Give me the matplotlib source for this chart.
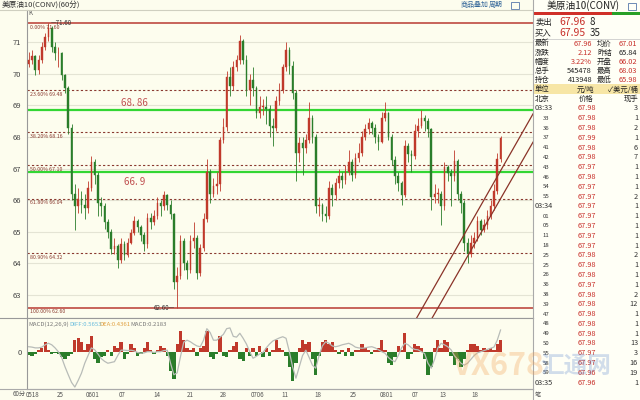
import matplotlib
matplotlib.use('Agg')
import matplotlib.pyplot as plt
import numpy as np
from matplotlib.patches import Rectangle

plt.rcParams['font.family'] = ['Noto Sans CJK SC', 'DejaVu Sans']

# ---------------- data ----------------
first_open = 70.30
closes = [70.44, 70.55, 70.12, 70.44, 70.86, 71.18, 71.45, 70.86, 70.65, 70.65,
          69.95, 69.55, 68.30, 66.20, 65.80, 66.05, 65.85, 65.75, 66.40, 67.20,
          66.80, 65.90, 65.80, 65.30, 65.00, 64.45, 64.55, 64.10, 64.60, 64.25,
          64.65, 64.95, 65.35, 65.15, 64.90, 64.60, 65.45, 65.30, 65.50, 65.90,
          65.80, 66.15, 65.85, 65.55, 63.40, 63.60, 64.70, 64.00, 63.80, 64.70,
          64.80, 63.70, 64.50, 65.40, 66.90, 66.20, 66.45, 66.50, 67.90, 68.33,
          69.90, 69.60, 70.20, 70.45, 71.05, 70.45, 69.50, 69.80, 69.55, 68.75,
          68.95, 68.95, 68.90, 68.35, 68.30, 69.15, 69.50, 70.20, 70.75, 70.25,
          69.40, 67.50, 67.80, 67.65, 67.90, 68.60, 68.00, 65.80, 65.85, 65.55,
          65.50, 66.40, 66.15, 66.55, 66.75, 66.65, 66.90, 67.20, 66.80, 67.35,
          67.50, 68.00, 68.25, 68.45, 68.30, 68.00, 67.85, 68.60, 68.75, 68.00,
          67.27, 66.75, 66.55, 66.15, 67.70, 67.45, 67.40, 68.20, 68.35, 68.60,
          68.50, 68.25, 66.10, 66.20, 66.20, 65.80, 67.05, 66.85, 66.75, 67.25,
          66.20, 65.90, 64.65, 64.30, 64.65, 64.80, 65.35, 65.05, 65.20, 65.50,
          65.80, 66.30, 67.30, 67.96]
highs = [70.70, 70.75, 70.60, 70.60, 71.00, 71.30, 71.60, 71.50, 71.00, 70.85,
         70.70, 70.00, 69.60, 68.40, 66.50, 66.40, 66.30, 66.20, 66.60, 67.40,
         67.30, 66.90, 66.10, 65.90, 65.40, 65.10, 64.80, 64.60, 64.80, 64.70,
         64.80, 65.10, 65.50, 65.40, 65.20, 65.00, 65.60, 65.60, 65.70, 66.10,
         66.00, 66.30, 66.20, 66.00, 65.60, 63.90, 64.90, 64.80, 64.10, 64.90,
         65.30, 64.90, 64.60, 65.60, 67.30, 67.00, 66.70, 66.90, 68.00, 68.60,
         70.10, 70.20, 70.40, 70.60, 71.23, 71.10, 70.60, 70.00, 70.20, 69.60,
         69.30, 69.20, 69.30, 69.00, 68.60, 69.30, 69.70, 70.30, 71.00, 70.85,
         70.40, 69.50, 68.00, 68.00, 68.10, 69.10, 68.70, 68.10, 66.10, 65.90,
         65.80, 66.60, 66.50, 66.70, 67.00, 66.90, 67.10, 67.60, 67.30, 67.50,
         67.80, 68.20, 68.40, 68.60, 68.50, 68.40, 68.10, 68.80, 69.10, 68.80,
         68.10, 67.40, 66.90, 66.60, 67.90, 67.80, 67.60, 68.40, 68.60, 68.85,
         68.70, 68.60, 68.30, 66.50, 66.40, 66.30, 67.20, 67.10, 67.00, 67.60,
         67.30, 66.30, 66.00, 64.80, 64.90, 65.00, 65.50, 65.40, 65.40, 65.70,
         66.00, 66.50, 67.50, 68.03]
lows = [70.20, 70.30, 69.95, 70.00, 70.35, 70.75, 71.05, 70.70, 70.45, 70.20,
        69.80, 69.40, 68.10, 66.00, 65.06, 65.60, 65.60, 65.40, 65.60, 66.30,
        66.50, 65.50, 65.50, 65.10, 64.80, 64.30, 64.30, 63.85, 64.00, 64.10,
        64.20, 64.60, 64.90, 65.00, 64.70, 64.40, 64.50, 65.10, 65.20, 65.40,
        65.50, 65.70, 65.70, 65.40, 63.20, 62.60, 63.50, 63.80, 63.50, 63.70,
        64.50, 63.50, 63.60, 64.40, 65.30, 65.90, 66.10, 66.20, 66.30, 67.80,
        68.20, 69.30, 69.50, 70.10, 70.30, 70.30, 69.30, 69.00, 69.30, 68.60,
        68.60, 68.70, 68.40, 68.00, 67.70, 68.20, 69.00, 69.40, 70.10, 70.00,
        69.20, 66.60, 67.20, 66.80, 67.50, 67.80, 67.80, 65.60, 65.50, 65.35,
        65.30, 65.40, 65.80, 66.00, 66.40, 66.40, 66.50, 66.80, 66.60, 66.70,
        67.20, 67.40, 67.90, 68.10, 68.10, 67.80, 67.60, 67.80, 68.50, 67.90,
        67.10, 66.50, 66.30, 65.85, 66.10, 67.20, 66.90, 67.30, 68.00, 68.30,
        68.20, 68.00, 65.70, 65.90, 65.90, 65.20, 65.70, 66.60, 65.80, 66.60,
        66.00, 65.60, 64.40, 64.00, 64.20, 64.50, 64.70, 64.90, 65.00, 65.10,
        65.40, 65.70, 66.20, 67.20]

macd_hist = [-0.08, -0.10, -0.05, 0.05, 0.10, 0.25, 0.05, -0.05, -0.03, -0.05,
             -0.15, -0.20, -0.10, -0.05, 0.30, 0.35, 0.25, 0.05, 0.20, 0.40,
             -0.20, -0.30, -0.15, -0.10, 0.05, -0.10, 0.15, 0.10, 0.25, -0.20,
             -0.05, 0.20, 0.10, -0.10, -0.05, 0.10, 0.25, 0.05, -0.05, 0.05,
             0.15, 0.10, -0.10, -0.50, -0.70, 0.20, 0.55, 0.30, 0.10, 0.05,
             0.10, -0.10, 0.10, 0.15, 0.55, -0.15, -0.20, -0.05, 0.40, -0.10,
             -0.15, 0.05, 0.15, 0.25, -0.20, -0.25, 0.10, -0.10, 0.10, -0.10,
             0.15, -0.15, 0.10, -0.10, 0.05, 0.30, 0.10, 0.05, -0.10, -0.40,
             -0.75, -0.30, 0.10, 0.30, 0.20, 0.25, -0.20, -0.60, -0.10, 0.25,
             0.30, 0.20, 0.25, 0.05, -0.05, 0.05, -0.10, 0.10, -0.10, 0.05,
             0.05, 0.20, 0.10, 0.05, -0.05, 0.05, 0.10, 0.30, 0.05, -0.30,
             -0.35, -0.15, 0.15, 0.05, 0.50, -0.20, -0.05, 0.20, 0.15, 0.10,
             -0.20, -0.60, -0.40, 0.10, 0.30, 0.10, 0.30, 0.25, -0.10, -0.35,
             -0.20, -0.40, -0.20, 0.05, 0.20, 0.20, 0.15, 0.05, 0.10, 0.05,
             0.10, 0.05, 0.20, 0.30]
diff_line = [0.13, 0.12, 0.10, 0.10, 0.12, 0.18, 0.22, 0.18, 0.10, 0.00,
             -0.15, -0.39, -0.60, -0.80, -0.92, -0.75, -0.56, -0.30, -0.10, 0.10,
             0.05, -0.06, -0.18, -0.25, -0.30, -0.28, -0.26, -0.10, 0.04, 0.04,
             0.03, 0.04, 0.02, -0.02, -0.04, -0.03, 0.00, 0.00, -0.02, 0.00,
             0.00, 0.03, 0.04, -0.30, -0.60, -0.55, -0.13, 0.25, 0.30, 0.26,
             0.20, 0.15, 0.13, 0.30, 0.60, 0.50, 0.30, 0.30, 0.38, 0.45,
             0.60, 0.62, 0.40, 0.38, 0.48, 0.35, 0.20, 0.00, -0.17, -0.12,
             -0.06, -0.02, 0.10, 0.20, 0.28, 0.32, 0.36, 0.39, 0.35, 0.00,
             -0.40, -0.69, -0.40, -0.10, 0.04, -0.15, -0.35, -0.43, -0.10, 0.15,
             0.26, 0.22, 0.15, 0.13, 0.15, 0.18, 0.20, 0.22, 0.18, 0.12,
             0.10, 0.09, 0.10, 0.12, 0.13, 0.10, 0.05, 0.00, -0.04, -0.15,
             -0.22, -0.26, -0.10, 0.10, 0.22, 0.18, 0.10, 0.06, 0.05, 0.00,
             -0.05, -0.30, -0.43, -0.20, 0.10, 0.22, 0.18, 0.13, 0.05, -0.10,
             -0.20, -0.30, -0.35, -0.30, -0.20, -0.10, -0.03, 0.00, 0.03, 0.06,
             0.09, 0.12, 0.30, 0.565]

fib_pct = ['0.00%', '23.60%', '38.20%', '50.00%', '61.80%', '80.90%', '100.00%']
fib_vals = [71.60, 69.48, 68.16, 67.10, 66.04, 64.32, 62.60]
green_levels = [68.86, 66.9]
green_label_idx = 32
channel_a = [(119.1, 62.55), (148.9, 68.01)]
channel_b = [(123.8, 62.55), (148.9, 67.12)]
ytick_vals = [63, 64, 65, 66, 67, 68, 69, 70, 71]
xtick_idx = [1.3, 9.5, 19.5, 28.4, 38.9, 48.9, 58.9, 69.5, 77.7, 87.7, 98.3, 108.6, 117.1, 125.6, 135.3]
xtick_labels = ['0518', '25', '0601', '07', '14', '21', '28', '0706', '11', '18', '25', '0801', '07', '13', '18']

quote_title = '美原油10(CONV)'
bid_ask = [('卖出', '67.96', '8'), ('买入', '67.95', '35')]
quote_rows = [('最新', '67.96', 'r', '均价', '67.01', 'r'),
              ('涨跌', '2.12', 'r', '昨结', '65.84', 'k'),
              ('幅度', '3.22%', 'r', '开盘', '66.02', 'r'),
              ('总手', '545478', 'k', '最高', '68.03', 'r'),
              ('持仓', '413948', 'k', '最低', '65.98', 'r')]
tick_times = ['03:33', '33', '36', '37', '41', '42', '43', '46', '54', '55',
              '03:34', '01', '05', '11', '18', '25', '25', '26', '36', '38',
              '39', '47', '48', '49', '50', '55', '58', '59', '03:35']
tick_prices = ['67.98', '67.98', '67.98', '67.99', '67.98', '67.98', '67.97', '67.98', '67.97', '67.97',
               '67.97', '67.97', '67.97', '67.97', '67.97', '67.98', '67.98', '67.98', '67.97', '67.98',
               '67.98', '67.98', '67.98', '67.98', '67.98', '67.97', '67.97', '67.96', '67.96']
tick_vols = ['3', '1', '2', '1', '6', '7', '1', '1', '1', '2',
             '1', '1', '1', '1', '1', '2', '1', '1', '1', '2',
             '12', '1', '1', '1', '13', '3', '16', '19', '1']

# ---------------- figure ----------------
W, H = 640, 400
BG = '#fdfdee'
fig = plt.figure(figsize=(6.4, 4.0), dpi=100, facecolor=BG)

def fx(x):
    return x / W

def fy(y):
    return 1 - y / H

def ptext(x, y, s, **kw):
    kw.setdefault('va', 'center')
    fig.text(fx(x), fy(y), s, **kw)

# top bar
ptext(2, 5, '美原油10(CONV)(60分)', fontsize=5.5, color='#333333')
ptext(461, 5, '商品叠加', fontsize=5, color='#336699')
ptext(489, 5, '周期', fontsize=5, color='#336699')
fig.add_artist(Rectangle((fx(511), fy(9)), 8 / W, 7 / H, transform=fig.transFigure,
                         fill=False, ec='#5577aa', lw=0.6))
fig.add_artist(plt.Line2D([0, fx(533)], [fy(10), fy(10)], transform=fig.transFigure,
                          color='#cfcfc0', lw=0.8))

RED = '#c0392b'
GRN = '#2a7d2a'
n = len(closes)
idx = np.arange(n)
opens = [first_open] + closes[:-1]
XL = (-0.5, -0.5 + (533 - 27) / 3.3)

# main axes
ax = fig.add_axes([fx(27), fy(318), fx(533) - fx(27), (318 - 10) / H])
ax.set_facecolor(BG)
ax.set_xlim(*XL)
ax.set_ylim(62.27, 72.02)
for v in ytick_vals:
    ax.axhline(v, color='#e4e4d4', lw=0.8, zorder=0)
ax.set_yticks(ytick_vals)
ax.set_yticklabels([str(v) for v in ytick_vals], fontsize=5.5, color='#444444')
ax.tick_params(axis='y', length=0, pad=4)
ax.set_xticks([])
ax.tick_params(axis='x', labelbottom=False, length=0)
for s in ['top', 'right']:
    ax.spines[s].set_visible(False)
ax.spines['left'].set_color('#999999')
ax.spines['left'].set_linewidth(0.8)
ax.spines['bottom'].set_color('#999999')
ax.spines['bottom'].set_linewidth(0.8)

# fib levels
for p, v in zip(fib_pct, fib_vals):
    if p in ('0.00%', '100.00%'):
        ax.axhline(v, color='#b83a32', lw=1.1, zorder=1)
    else:
        ax.axhline(v, color='#8a3a30', lw=0.8, ls=(0, (2, 2)), zorder=1)
    ax.text(0.4, v - 0.05, f'{p} {v:.2f}', fontsize=3.8, color='#8a3a30',
            va='top', ha='left', zorder=5)

# green levels
for v in green_levels:
    ax.axhline(v, color='#33d633', lw=1.6, zorder=1)
ax.text(green_label_idx, green_levels[0] + 0.05, f'{green_levels[0]:.2f}'.replace('.', '. '),
        fontsize=7, color='#c05050', ha='center', va='bottom')
ax.text(green_label_idx, green_levels[1] - 0.18, f'{green_levels[1]}'.replace('.', '. '),
        fontsize=7, color='#c05050', ha='center', va='top')

# candles
for i in range(n):
    o, c, h, l = opens[i], closes[i], highs[i], lows[i]
    col = RED if c >= o else GRN
    ax.vlines(i, l, h, color=col, lw=0.6, zorder=3)
    ax.bar(i, max(abs(c - o), 0.02), bottom=min(o, c), width=0.5, color=col,
           edgecolor=col, lw=0.3, zorder=4)

# high / low markers
il = int(np.argmin(lows))
ax.text(6 + 0.8, fib_vals[0], f'—{fib_vals[0]:.2f}',
        fontsize=4.5, color='#333333', va='center', ha='left', zorder=6)
ax.text(il - 0.8, min(lows), f'{min(lows):.2f}—', fontsize=4.5, color='#333333',
        va='center', ha='right', zorder=6)

# channel lines
for (x1, y1), (x2, y2) in (channel_a, channel_b):
    ax.axline((x1, y1), (x2, y2), color='#8a3328', lw=0.9, zorder=5)

ax.text(0.0, 71.92, 'K', fontsize=4.5, color='#555555', va='center')

# MACD axes
mx = fig.add_axes([fx(27), fy(389), fx(533) - fx(27), (389 - 318) / H])
mx.set_facecolor(BG)
mx.set_xlim(*XL)
mx.set_ylim(-0.971, 0.878)
hist = np.array(macd_hist)
cols = [RED if v >= 0 else GRN for v in hist]
mx.bar(idx, hist, width=1.0, color=cols, lw=0, zorder=2)
mx.plot(idx, diff_line, color='#b8bcb8', lw=0.9, zorder=3)
mx.set_yticks([0])
mx.set_yticklabels(['0'], fontsize=5.5, color='#444444')
mx.tick_params(axis='y', length=0, pad=4)
mx.set_xticks(xtick_idx)
mx.set_xticklabels(xtick_labels, fontsize=4.5, color='#555555')
mx.tick_params(axis='x', length=0, pad=1.5)
for s in ['top', 'right']:
    mx.spines[s].set_visible(False)
mx.spines['left'].set_color('#999999')
mx.spines['left'].set_linewidth(0.8)
mx.spines['bottom'].set_color('#aaaaaa')
mx.spines['bottom'].set_linewidth(0.8)
mx.text(0.003, 0.95, 'MACD(12,26,9)', transform=mx.transAxes, fontsize=4.3, color='#777777', va='top')
mx.text(0.083, 0.95, 'DIFF:0.5653', transform=mx.transAxes, fontsize=4.3, color='#66bbdd', va='top')
mx.text(0.143, 0.95, 'DEA:0.4361', transform=mx.transAxes, fontsize=4.3, color='#e0a040', va='top')
mx.text(0.205, 0.95, 'MACD:0.2183', transform=mx.transAxes, fontsize=4.3, color='#777777', va='top')

# separators
fig.add_artist(plt.Line2D([0, fx(533)], [fy(318), fy(318)], transform=fig.transFigure, color='#999999', lw=0.8))
fig.add_artist(plt.Line2D([0, fx(533)], [fy(389), fy(389)], transform=fig.transFigure, color='#aaaaaa', lw=0.8))
ptext(13, 394, '60分', fontsize=4.5, color='#555555')

# ---------------- right quote panel ----------------
PBG = '#fffff6'
fig.add_artist(Rectangle((fx(533), 0), 1 - fx(533), 1, transform=fig.transFigure,
                         facecolor=PBG, edgecolor='none', zorder=-1))
fig.add_artist(plt.Line2D([fx(533), fx(533)], [0, 1], transform=fig.transFigure, color='#aaaaaa', lw=0.8))
ptext(583, 6, quote_title, fontsize=7, color='#222222', ha='center')
fig.add_artist(Rectangle((fx(628), fy(10)), 8 / W, 7 / H, transform=fig.transFigure,
                         fill=False, ec='#5577aa', lw=0.6))
fig.add_artist(Rectangle((fx(533), fy(14.5)), (612 - 533) / W, 2.5 / H, transform=fig.transFigure,
                         facecolor='#d03028', edgecolor='none'))
fig.add_artist(Rectangle((fx(612), fy(14.5)), (640 - 612) / W, 2.5 / H, transform=fig.transFigure,
                         facecolor='#28a028', edgecolor='none'))

PRED = '#c8302a'
for k, (lab, price, vol) in enumerate(bid_ask):
    y = 22 + k * 11
    ptext(535, y, lab, fontsize=6, color='#222222')
    ptext(559, y, price, fontsize=7.5, color=PRED)
    ptext(590, y, vol, fontsize=7, color='#222222')
fig.add_artist(plt.Line2D([fx(533), 1], [fy(38.5), fy(38.5)], transform=fig.transFigure, color='#cccccc', lw=0.6))

for k, (l1, v1, c1, l2, v2, c2) in enumerate(quote_rows):
    y = 43.5 + k * 9.2
    ptext(535, y, l1, fontsize=5.3, color='#222222')
    ptext(592, y, v1, fontsize=5.3, color=PRED if c1 == 'r' else '#222222', ha='right')
    ptext(597, y, l2, fontsize=5.3, color='#222222')
    ptext(637, y, v2, fontsize=5.3, color=PRED if c2 == 'r' else '#222222', ha='right')

fig.add_artist(Rectangle((fx(533), fy(94)), (640 - 533) / W, 9.5 / H, transform=fig.transFigure,
                         facecolor='#f7e6a6', edgecolor='none'))
ptext(535, 89.5, '单位', fontsize=5.3, color='#222222')
ptext(586, 89.5, '元/吨', fontsize=5.3, color='#222222', ha='center')
ptext(638, 89.5, '✓美元/桶', fontsize=5.3, color='#222222', ha='right')

ptext(535, 99, '北京', fontsize=5.3, color='#222222')
ptext(586, 99, '价格', fontsize=5.3, color='#222222', ha='center')
ptext(638, 99, '现手', fontsize=5.3, color='#222222', ha='right')

for k, (t, p, v) in enumerate(zip(tick_times, tick_prices, tick_vols)):
    y = 108.5 + k * 9.79
    if ':' in t:
        ptext(535, y, t, fontsize=5.3, color='#333333')
    else:
        ptext(546, y, t, fontsize=4.3, color='#333333', ha='center')
    ptext(587, y, p, fontsize=5.3, color=PRED, ha='center')
    ptext(638, y, v, fontsize=5.3, color='#333333', ha='right')
ptext(535, 395, '笔', fontsize=4.5, color='#555555')

# watermark
fig.text(fx(452), fy(366), 'VX678', fontsize=22, fontweight='bold', color='#f3a050', alpha=0.3, va='center')
fig.text(fx(540), fy(366), '汇通网', fontsize=17, fontweight='bold', color='#4a78c8', alpha=0.25, va='center')

fig.savefig('out.png', dpi=100, facecolor=BG)
